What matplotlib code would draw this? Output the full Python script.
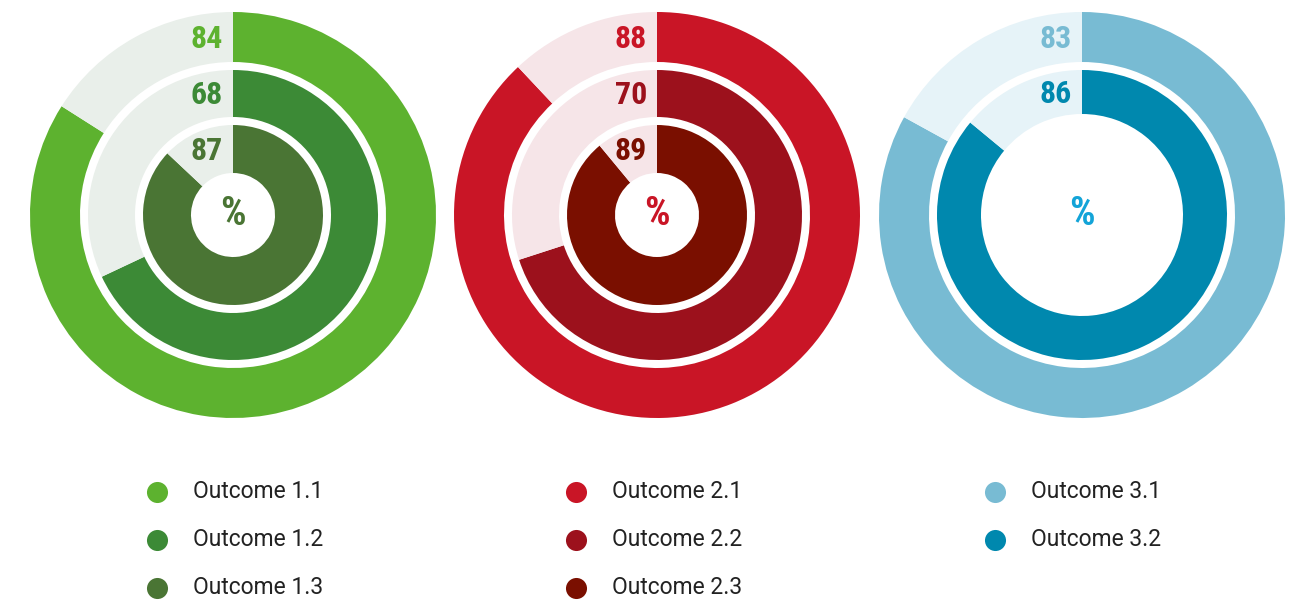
import matplotlib
matplotlib.use("Agg")
import matplotlib.pyplot as plt

# values per chart (outer ring first)
values_1 = [84, 68, 87]
values_2 = [88, 70, 89]
values_3 = [83, 86]

labels_1 = ["Outcome 1.1", "Outcome 1.2", "Outcome 1.3"]
labels_2 = ["Outcome 2.1", "Outcome 2.2", "Outcome 2.3"]
labels_3 = ["Outcome 3.1", "Outcome 3.2"]

colors_1 = ["#5db22f", "#3c8a36", "#4a7534"]
colors_2 = ["#c91526", "#9c111c", "#7a0f00"]
colors_3 = ["#78bbd3", "#0088ae"]
bg_1 = "#e9efea"
bg_2 = "#f6e5e8"
bg_3 = "#e6f3f8"
pct_colors = ["#4a7534", "#c91526", "#13a4d8"]

W, H = 1304, 601
fig = plt.figure(figsize=(W / 100, H / 100), dpi=100)
ax = fig.add_axes([0, 0, 1, 1])

radii = [203, 145, 90]
widths = [50, 47, 48]
cy = H - 215
centers = [233, 657, 1082]
num_font = dict(family=["Roboto Condensed", "DejaVu Sans"], fontweight="bold", fontsize=23)

charts = [(values_1, colors_1, bg_1, labels_1),
          (values_2, colors_2, bg_2, labels_2),
          (values_3, colors_3, bg_3, labels_3)]

for k, (vals, cols, bg, labs) in enumerate(charts):
    cx = centers[k]
    for i, v in enumerate(vals):
        r, w = radii[i], widths[i]
        if k == 2 and i == 1:
            w = 44
        ax.pie([v, 100 - v], colors=[cols[i], bg], radius=r, center=(cx, cy),
               startangle=90, counterclock=False,
               wedgeprops=dict(width=w, linewidth=0), frame=True)
        ax.text(cx - 10, cy + r - w / 2 - 2, str(v), color=cols[i],
                ha="right", va="center", **num_font)
    ax.text(cx, cy + 1, "%", color=pct_colors[k], ha="center", va="center",
            family=["Roboto Condensed", "DejaVu Sans"], fontweight="bold", fontsize=29)

    # legend
    lx = [157, 576, 995][k]
    for i, lab in enumerate(labs):
        ly = H - (492 + 48 * i)
        ax.scatter([lx], [ly], s=230, color=cols[i], linewidths=0)
        ax.text(lx + 36, ly, lab, family="Roboto", fontsize=16.5, color="#222222",
                ha="left", va="center")

ax.set_xlim(0, W)
ax.set_ylim(0, H)
ax.set_aspect("equal")
ax.axis("off")

fig.savefig("out.png", dpi=100)
